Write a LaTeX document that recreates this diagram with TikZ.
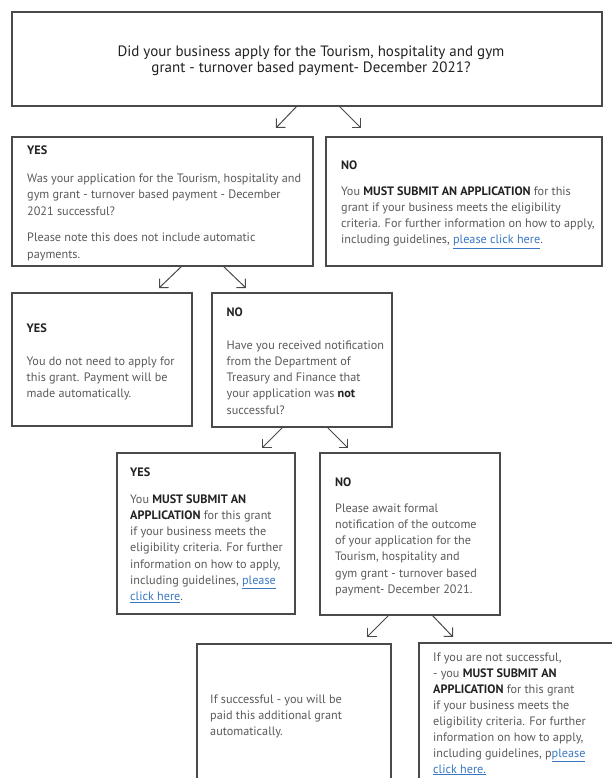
\documentclass[tikz,border=0pt]{standalone}
\usepackage{fontspec}
\setmainfont{PT Sans}
\usetikzlibrary{arrows.meta}
\definecolor{txt}{HTML}{5A5A5A}
\definecolor{hd}{HTML}{222222}
\definecolor{edge}{HTML}{4A4A4A}
\definecolor{lnk}{HTML}{3A78C2}
\newcommand{\lnk}[1]{\textcolor{lnk}{\underline{#1}}}
\newcommand{\hb}[1]{\textbf{\textcolor{hd}{#1}}}
\newcommand{\lines}[1]{\begin{tabular}[t]{@{}l@{}}#1\end{tabular}}
\begin{document}
\begin{tikzpicture}[x=1pt,y=-1pt,
  boxst/.style={draw=edge,line width=1.3pt,rectangle,inner sep=0pt,outer sep=0pt,anchor=north west},
  bodytxt/.style={inner sep=0pt,anchor=base west,text=txt,font=\fontsize{12.2}{16.3}\selectfont},
  headtxt/.style={inner sep=0pt,anchor=base west,text=hd,font=\fontsize{12.2}{16.3}\selectfont\bfseries},
  toptxt/.style={inner sep=0pt,anchor=base,text=hd,font=\fontsize{15}{16}\selectfont},
  arr/.style={draw=edge,line width=1pt,-{Straight Barb[angle=90:9pt,line width=1pt]}}]
\useasboundingbox (0,0) rectangle (612,778);
\fill[white] (0,0) rectangle (612,778);
\clip (0,0) rectangle (612,778);
% boxes
\node[boxst,minimum width=590pt,minimum height=94pt] (top) at (12,12) {};
\node[boxst,minimum width=301pt,minimum height=129pt] (yes1) at (12,137) {};
\node[boxst,minimum width=276pt,minimum height=129pt] (no1) at (326,137) {};
\node[boxst,minimum width=180pt,minimum height=133pt] (yes2) at (12,293) {};
\node[boxst,minimum width=180pt,minimum height=134pt] (no2) at (212,293) {};
\node[boxst,minimum width=178pt,minimum height=161pt] (yes3) at (117,453) {};
\node[boxst,minimum width=180pt,minimum height=162pt] (no3) at (320,453) {};
\node[boxst,minimum width=194pt,minimum height=150pt] (bl) at (197,644) {};
\node[boxst,minimum width=206pt,minimum height=150pt] (br) at (419,643) {};
% texts
\node[toptxt] (ttop1) at (311,56.5) {Did your business apply for the Tourism, hospitality and gym};
\node[toptxt] (ttop2) at (311,72.5) {grant - turnover based payment- December 2021?};
\node[headtxt] (hyes1) at (27,155) {YES};
\node[bodytxt] (tyes1) at (27,182.5) {\lines{Was your application for the Tourism, hospitality and\\gym grant - turnover based payment - December\\2021 successful?\\[10.3pt]Please note this does not include automatic\\payments.}};
\node[headtxt] (hno1) at (341,169.5) {NO};
\node[bodytxt] (tno1) at (341,195) {\lines{You \hb{MUST SUBMIT AN APPLICATION} for this\\grant if your business meets the eligibility\\criteria. For further information on how to apply,\\including guidelines, \lnk{please click here}.}};
\node[headtxt] (hyes2) at (26.5,332.5) {YES};
\node[bodytxt] (tyes2) at (26.5,365) {\lines{You do not need to apply for\\this grant. Payment will be\\made automatically.}};
\node[headtxt] (hno2) at (226.5,316.5) {NO};
\node[bodytxt] (tno2) at (226.5,349) {\lines{Have you received notification\\from the Department of\\Treasury and Finance that\\your application was \hb{not}\\successful?}};
\node[headtxt] (hyes3) at (130,476.5) {YES};
\node[bodytxt] (tyes3) at (130,503) {\lines{You \hb{MUST SUBMIT AN}\\\hb{APPLICATION} for this grant\\if your business meets the\\eligibility criteria. For further\\information on how to apply,\\including guidelines, \lnk{please}\\\lnk{click here}.}};
\node[headtxt] (hno3) at (335,486.5) {NO};
\node[bodytxt] (tno3) at (335,512) {\lines{Please await formal\\notification of the outcome\\of your application for the\\Tourism, hospitality and\\gym grant - turnover based\\payment- December 2021.}};
\node[bodytxt] (tbl) at (210,703) {\lines{If successful - you will be\\paid this additional grant\\automatically.}};
\node[bodytxt,font=\fontsize{12.2}{16}\selectfont] (tbr) at (433,661) {\lines{If you are not successful,\\- you \hb{MUST SUBMIT AN}\\\hb{APPLICATION} for this grant\\if your business meets the\\eligibility criteria. For further\\information on how to apply,\\including guidelines, p\lnk{please}\\\lnk{click here.}}};
% arrows
\draw[arr] ([xshift=-10pt]top.south) -- ++(-21,22);
\draw[arr] ([xshift=32pt]top.south) -- ++(22,22);
\draw[arr] ([xshift=19.5pt]yes1.south) -- ++(-23,22);
\draw[arr] ([xshift=60.5pt]yes1.south) -- ++(23,22);
\draw[arr] ([xshift=-19pt]no2.south) -- ++(-21,21);
\draw[arr] ([xshift=25pt]no2.south) -- ++(21,21);
\draw[arr] ([xshift=-21pt]no3.south) -- ++(-22,22);
\draw[arr] ([xshift=22pt]no3.south) -- ++(21,22);
\end{tikzpicture}
\end{document}
